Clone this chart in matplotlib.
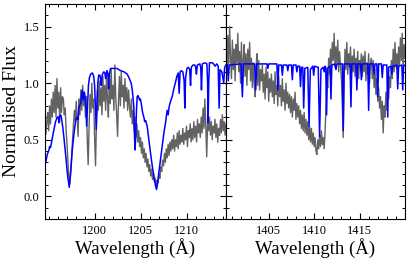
import matplotlib
matplotlib.use('Agg')
import matplotlib.pyplot as plt
from matplotlib.ticker import MultipleLocator, FixedLocator
import numpy as np

plt.rcParams['font.family'] = ['Liberation Serif', 'DejaVu Serif']
plt.rcParams['mathtext.fontset'] = 'stix'

# observed spectrum, 0.1 A sampling
obs_left_range = (1194.6, 1214.3)
obs_left = [
    0.70, 0.55, 0.66, 0.74, 0.58, 0.80, 0.64, 0.86, 0.70, 0.92,
    0.74, 0.98, 0.70, 1.04, 0.78, 0.92, 0.66, 0.96, 0.74, 0.88,
    0.86, 0.72, 0.78, 0.58, 0.46, 0.30, 0.18, 0.11, 0.22, 0.36,
    0.50, 0.64, 0.76, 0.66, 0.84, 0.70, 0.53, 0.86, 0.72, 0.94,
    0.76, 0.98, 0.80, 0.92, 0.70, 0.88, 0.50, 0.28, 0.62, 0.90,
    0.74, 1.00, 0.78, 0.86, 0.52, 0.27, 0.66, 0.94, 0.76, 1.02,
    0.80, 0.96, 0.72, 1.06, 0.84, 0.98, 0.76, 1.08, 0.86, 0.70,
    1.04, 0.82, 1.12, 0.86, 0.98, 0.76, 1.16, 0.88, 0.72, 0.53,
    0.84, 1.06, 0.80, 1.10, 0.88, 0.98, 0.78, 1.04, 0.84, 0.96,
    0.76, 0.94, 0.80, 0.70, 0.86, 0.64, 0.76, 0.58, 0.70, 0.52,
    0.64, 0.48, 0.58, 0.44, 0.52, 0.38, 0.48, 0.34, 0.42, 0.30,
    0.38, 0.26, 0.33, 0.22, 0.28, 0.18, 0.24, 0.15, 0.20, 0.13,
    0.16, 0.09, 0.14, 0.12, 0.20, 0.16, 0.26, 0.22, 0.32, 0.27,
    0.38, 0.30, 0.42, 0.34, 0.46, 0.36, 0.48, 0.40, 0.50, 0.42,
    0.54, 0.40, 0.50, 0.44, 0.56, 0.42, 0.58, 0.46, 0.54, 0.48,
    0.60, 0.46, 0.56, 0.50, 0.62, 0.44, 0.58, 0.52, 0.64, 0.48,
    0.60, 0.50, 0.66, 0.52, 0.62, 0.48, 0.68, 0.56, 0.64, 0.52,
    0.70, 0.56, 0.78, 0.60, 0.86, 0.62, 0.35, 0.66, 0.58, 0.70,
    0.54, 0.66, 0.50, 0.62, 0.56, 0.68, 0.52, 0.64, 0.48, 0.60,
    0.54, 0.68, 0.56, 0.72, 0.58, 0.66, 0.54, 0.64,
]
obs_right_range = (1400.3, 1420.0)
obs_right = [
    1.30, 1.08, 1.42, 1.16, 1.50, 1.22, 1.04, 1.38, 1.12, 1.30,
    1.02, 1.34, 1.18, 1.44, 1.10, 1.28, 1.00, 1.36, 0.96, 1.20,
    1.34, 1.06, 1.26, 0.98, 1.30, 1.12, 1.36, 1.02, 1.22, 0.96,
    1.18, 1.00, 0.88, 1.14, 1.26, 0.98, 1.20, 0.94, 1.12, 1.02,
    1.16, 0.92, 1.08, 0.86, 1.14, 0.96, 1.10, 0.84, 1.04, 0.92,
    1.08, 0.88, 1.02, 0.82, 1.10, 0.90, 0.98, 0.80, 1.06, 0.88,
    0.98, 0.80, 1.04, 0.84, 0.94, 0.76, 1.00, 0.82, 0.92, 0.78,
    0.90, 0.74, 0.88, 0.70, 0.86, 0.76, 0.92, 0.68, 0.82, 0.70,
    0.80, 0.64, 0.76, 0.60, 0.72, 0.58, 0.74, 0.56, 0.68, 0.54,
    0.66, 0.50, 0.62, 0.48, 0.60, 0.46, 0.56, 0.44, 0.52, 0.40,
    0.37, 0.50, 0.42, 0.54, 0.44, 0.58, 0.46, 0.52, 0.42, 0.56,
    0.80, 1.02, 0.96, 1.22, 1.08, 1.30, 1.14, 1.36, 1.20, 1.44,
    1.14, 1.32, 1.18, 1.38, 1.10, 1.28, 1.16, 1.04, 0.80, 0.52,
    1.02, 1.30, 1.12, 1.36, 1.08, 1.26, 1.14, 1.32, 1.06, 1.24,
    1.10, 1.30, 1.06, 1.22, 1.12, 1.28, 1.04, 1.20, 1.14, 1.26,
    1.06, 1.24, 1.10, 1.28, 1.02, 1.18, 1.08, 1.26, 1.00, 1.16,
    1.22, 1.04, 1.20, 0.96, 1.12, 0.90, 1.04, 0.84, 0.96, 0.78,
    0.88, 0.68, 0.84, 0.56, 0.80, 0.70, 0.92, 0.76, 1.00, 0.86,
    1.06, 0.96, 1.20, 1.04, 1.30, 1.10, 1.36, 1.14, 1.26, 1.08,
    1.32, 1.16, 1.40, 1.20, 1.44, 1.12, 1.34, 1.22,
]

# model spectrum
mod_left_wl = [
    1194.6, 1194.68, 1194.85, 1195.03, 1195.1, 1195.2, 1195.3, 1195.45, 1195.58, 1195.75,
    1195.94, 1196.05, 1196.12, 1196.2, 1196.3, 1196.38, 1196.45, 1196.55, 1196.66, 1196.77,
    1196.88, 1196.99, 1197.1, 1197.24, 1197.34, 1197.43, 1197.57, 1197.75, 1197.94, 1198.08,
    1198.18, 1198.3, 1198.48, 1198.6, 1198.65, 1198.76, 1198.87, 1198.95, 1199.05, 1199.13,
    1199.22, 1199.33, 1199.44, 1199.57, 1199.76, 1199.9, 1200.0, 1200.1, 1200.18, 1200.26,
    1200.35, 1200.44, 1200.58, 1200.68, 1200.72, 1200.78, 1200.85, 1201.01, 1201.12, 1201.2,
    1201.28, 1201.34, 1201.45, 1201.52, 1201.6, 1201.74, 1201.95, 1202.1, 1202.43, 1202.83,
    1203.19, 1203.55, 1203.78, 1203.98, 1204.1, 1204.17, 1204.27, 1204.33, 1204.4, 1204.47,
    1204.55, 1204.63, 1204.72, 1204.82, 1204.9, 1204.98, 1205.08, 1205.18, 1205.28, 1205.36,
    1205.45, 1205.55, 1205.65, 1205.72, 1205.9, 1206.09, 1206.27, 1206.45, 1206.61, 1206.74,
    1206.88, 1206.99, 1207.18, 1207.35, 1207.54, 1207.72, 1207.89, 1208.0, 1208.13, 1208.3,
    1208.44, 1208.62, 1208.81, 1208.95, 1209.1, 1209.2, 1209.3, 1209.45, 1209.6, 1209.74,
    1209.82, 1209.9, 1210.05, 1210.2, 1210.35, 1210.44, 1210.52, 1210.7, 1210.9, 1211.0,
    1211.08, 1211.18, 1211.45, 1211.55, 1211.63, 1211.72, 1212.0, 1212.22, 1212.3, 1212.35,
    1212.42, 1212.5, 1212.8, 1212.95, 1213.1, 1213.3, 1213.45, 1213.55, 1213.65, 1213.85,
    1213.95, 1214.05, 1214.15, 1214.3,
]
mod_left = [
    0.28, 0.30, 0.37, 0.41, 0.44, 0.43, 0.47, 0.54, 0.59, 0.66,
    0.70, 0.70, 0.65, 0.71, 0.72, 0.70, 0.66, 0.60, 0.52, 0.43,
    0.34, 0.24, 0.16, 0.08, 0.16, 0.25, 0.41, 0.55, 0.67, 0.70,
    0.68, 0.79, 0.82, 0.90, 0.94, 0.85, 0.92, 0.88, 0.80, 0.62,
    0.78, 0.98, 1.05, 1.08, 1.09, 1.06, 0.98, 0.75, 0.59, 0.80,
    1.00, 1.07, 1.07, 1.02, 0.98, 1.04, 1.08, 1.10, 1.09, 1.04,
    1.09, 1.11, 1.08, 0.95, 1.08, 1.13, 1.13, 1.13, 1.13, 1.11,
    1.10, 1.08, 1.04, 1.00, 0.94, 0.88, 0.79, 0.55, 0.41, 0.52,
    0.75, 0.88, 0.89, 0.87, 0.85, 0.86, 0.82, 0.76, 0.72, 0.70,
    0.66, 0.67, 0.64, 0.62, 0.50, 0.38, 0.27, 0.18, 0.10, 0.06,
    0.13, 0.21, 0.33, 0.44, 0.56, 0.65, 0.76, 0.72, 0.80, 0.85,
    0.88, 0.95, 1.01, 1.06, 1.09, 0.91, 1.10, 1.11, 1.10, 1.02,
    0.78, 1.05, 1.13, 1.14, 1.12, 0.98, 1.14, 1.16, 1.16, 1.14,
    1.08, 1.16, 1.17, 1.14, 0.94, 1.17, 1.18, 1.17, 1.00, 0.65,
    1.00, 1.18, 1.18, 1.17, 1.15, 1.17, 1.15, 0.78, 1.12, 1.10,
    1.05, 1.00, 1.14, 1.16,
]
mod_right_wl = [
    1400.3, 1400.45, 1400.55, 1400.65, 1401.95, 1402.1, 1402.22, 1403.45, 1403.57, 1403.68,
    1404.8, 1404.9, 1405.0, 1405.9, 1406.0, 1406.1, 1406.4, 1406.5, 1406.6, 1407.0,
    1407.1, 1407.2, 1407.5, 1407.6, 1407.7, 1408.0, 1408.1, 1408.2, 1408.4, 1408.5,
    1408.6, 1408.75, 1408.85, 1408.97, 1409.3, 1409.44, 1409.58, 1409.85, 1409.95, 1410.05,
    1410.45, 1410.6, 1410.75, 1411.0, 1411.1, 1411.2, 1411.28, 1411.37, 1411.47, 1411.75,
    1411.85, 1411.95, 1412.3, 1412.4, 1412.5, 1413.1, 1413.2, 1413.3, 1413.95, 1414.05,
    1414.15, 1414.6, 1414.7, 1414.8, 1415.1, 1415.2, 1415.3, 1415.9, 1416.0, 1416.1,
    1416.5, 1416.6, 1416.7, 1416.9, 1417.0, 1417.1, 1417.4, 1417.5, 1417.6, 1418.0,
    1418.1, 1418.2, 1418.45, 1418.55, 1418.65, 1419.1, 1419.2, 1419.3, 1419.65, 1419.75,
    1419.85, 1420.0,
]
mod_right = [
    1.17, 1.16, 1.02, 1.16, 1.17, 0.88, 1.17, 1.17, 0.94, 1.17,
    1.17, 1.13, 1.17, 1.17, 0.94, 1.16, 1.16, 1.07, 1.16, 1.16,
    1.11, 1.16, 1.16, 1.03, 1.16, 1.16, 1.10, 1.15, 1.15, 0.97,
    1.14, 1.14, 0.78, 1.13, 1.14, 0.62, 1.12, 1.15, 1.07, 1.15,
    1.14, 0.53, 1.12, 1.14, 1.10, 1.15, 1.14, 0.72, 1.13, 1.15,
    0.86, 1.16, 1.17, 1.12, 1.17, 1.17, 0.58, 1.17, 1.17, 0.79,
    1.17, 1.17, 0.94, 1.17, 1.17, 1.03, 1.17, 1.17, 0.76, 1.17,
    1.17, 1.08, 1.17, 1.17, 0.88, 1.17, 1.17, 1.05, 1.16, 1.16,
    0.70, 1.14, 1.15, 1.08, 1.15, 1.16, 0.95, 1.15, 1.16, 0.94,
    1.15, 1.16,
]
left_ticks = [1200, 1205, 1210]
right_ticks = [1405, 1410, 1415]

fig = plt.figure(figsize=(4.09, 2.61), dpi=100)
ax1 = fig.add_axes([0.110, 0.161, 0.4426, 0.824])
ax2 = fig.add_axes([0.5526, 0.161, 0.4376, 0.824], sharey=ax1)

panels = [
    (ax1, obs_left_range, obs_left, mod_left_wl, mod_left, (1194.6, 1214.3), left_ticks),
    (ax2, obs_right_range, obs_right, mod_right_wl, mod_right, (1400.3, 1420.0), right_ticks),
]
for ax, rng, obs, mwl, mflux, xl, ticks in panels:
    wl = np.linspace(rng[0], rng[1], len(obs))
    ax.plot(wl, obs, color='#626262', lw=1.0)
    ax.plot(mwl, mflux, color='#0000ff', lw=1.1)
    ax.set_xlim(*xl)
    ax.xaxis.set_major_locator(FixedLocator(ticks))
    ax.xaxis.set_minor_locator(MultipleLocator(1))
    ax.yaxis.set_major_locator(MultipleLocator(0.5))
    ax.yaxis.set_minor_locator(MultipleLocator(0.1))
    ax.tick_params(which='both', direction='in', top=True, right=True, labelsize=9, pad=4)
    ax.tick_params(which='major', length=4, width=0.8)
    ax.tick_params(which='minor', length=2, width=0.7)
    ax.set_xlabel('Wavelength (Å)', fontsize=13.5, labelpad=1)
    for s in ax.spines.values():
        s.set_linewidth(0.8)

ax1.set_ylim(-0.2, 1.7)
ax1.set_ylabel('Normalised Flux', fontsize=14, labelpad=3)
ax2.tick_params(labelleft=False)

fig.savefig('out.png', dpi=100)
